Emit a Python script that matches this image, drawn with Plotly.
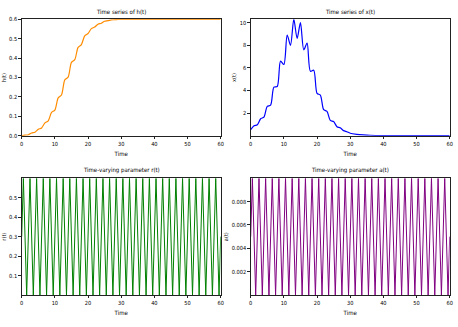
import plotly.graph_objects as go

# --------------------------
# Data
# --------------------------
t_h = [0, 1, 2, 3, 4, 5, 6, 7, 8, 9, 10, 11, 12, 13, 14, 15, 16, 17, 18, 19, 20,
       21, 22, 23, 24, 25, 26, 27, 28, 29, 30, 35, 40, 45, 50, 55, 60]
h_vals = [0.0, 0.003, 0.005, 0.014, 0.018, 0.033, 0.040, 0.066, 0.077, 0.120, 0.132,
          0.195, 0.210, 0.288, 0.302, 0.378, 0.392, 0.455, 0.470, 0.515, 0.527,
          0.552, 0.560, 0.575, 0.580, 0.590, 0.593, 0.597, 0.598, 0.599, 0.600,
          0.600, 0.600, 0.600, 0.600, 0.600, 0.600]

t_x = [0, 1, 2, 3, 4, 5, 6, 7, 8, 9, 10, 11, 12, 13, 14, 15, 16, 17, 18, 19, 20,
       21, 22, 23, 24, 25, 26, 27, 28, 29, 30, 32, 34, 36, 40, 45, 50, 60]
x_vals = [0.53, 0.88, 0.97, 1.5, 1.65, 2.6, 2.7, 4.3, 4.35, 6.6, 6.3, 8.9, 8.0, 10.3,
          8.6, 10.0, 7.6, 8.2, 5.7, 5.8, 3.75, 3.6, 2.3, 2.15, 1.35, 1.25, 0.8, 0.7,
          0.45, 0.35, 0.22, 0.12, 0.07, 0.04, 0.015, 0.005, 0.002, 0.0]

t_osc = [0, 0.5, 1.5, 2.5, 3.5, 4.5, 5.5, 6.5, 7.5, 8.5, 9.5,
         10.5, 11.5, 12.5, 13.5, 14.5, 15.5, 16.5, 17.5, 18.5, 19.5,
         20.5, 21.5, 22.5, 23.5, 24.5, 25.5, 26.5, 27.5, 28.5, 29.5,
         30.5, 31.5, 32.5, 33.5, 34.5, 35.5, 36.5, 37.5, 38.5, 39.5,
         40.5, 41.5, 42.5, 43.5, 44.5, 45.5, 46.5, 47.5, 48.5, 49.5,
         50.5, 51.5, 52.5, 53.5, 54.5, 55.5, 56.5, 57.5, 58.5, 59.5, 60]
r_vals = [0.3,
          0.6, 0.0, 0.6, 0.0, 0.6, 0.0, 0.6, 0.0, 0.6, 0.0,
          0.6, 0.0, 0.6, 0.0, 0.6, 0.0, 0.6, 0.0, 0.6, 0.0,
          0.6, 0.0, 0.6, 0.0, 0.6, 0.0, 0.6, 0.0, 0.6, 0.0,
          0.6, 0.0, 0.6, 0.0, 0.6, 0.0, 0.6, 0.0, 0.6, 0.0,
          0.6, 0.0, 0.6, 0.0, 0.6, 0.0, 0.6, 0.0, 0.6, 0.0,
          0.6, 0.0, 0.6, 0.0, 0.6, 0.0, 0.6, 0.0, 0.6, 0.0,
          0.3]
a_vals = [0.005,
          0.01, 0.0, 0.01, 0.0, 0.01, 0.0, 0.01, 0.0, 0.01, 0.0,
          0.01, 0.0, 0.01, 0.0, 0.01, 0.0, 0.01, 0.0, 0.01, 0.0,
          0.01, 0.0, 0.01, 0.0, 0.01, 0.0, 0.01, 0.0, 0.01, 0.0,
          0.01, 0.0, 0.01, 0.0, 0.01, 0.0, 0.01, 0.0, 0.01, 0.0,
          0.01, 0.0, 0.01, 0.0, 0.01, 0.0, 0.01, 0.0, 0.01, 0.0,
          0.01, 0.0, 0.01, 0.0, 0.01, 0.0, 0.01, 0.0, 0.01, 0.0,
          0.005]

x_ticks = [0, 10, 20, 30, 40, 50, 60]

# --------------------------
# Figure
# --------------------------
W, H = 458, 327
ML, MR, MT, MB = 14, 4, 6, 12
PW, PH = W - ML - MR, H - MT - MB
FONT = "DejaVu Sans Condensed, Liberation Sans Narrow, DejaVu Sans"

fig = go.Figure()
fig.add_trace(go.Scatter(x=t_h, y=h_vals, mode="lines",
                         line=dict(color="#ff8c00", width=1.2, shape="spline", smoothing=0.8),
                         xaxis="x", yaxis="y"))
fig.add_trace(go.Scatter(x=t_x, y=x_vals, mode="lines",
                         line=dict(color="blue", width=1.2, shape="spline", smoothing=0.8),
                         xaxis="x2", yaxis="y2"))
fig.add_trace(go.Scatter(x=t_osc, y=r_vals, mode="lines", line=dict(color="green", width=1.0),
                         xaxis="x3", yaxis="y3"))
fig.add_trace(go.Scatter(x=t_osc, y=a_vals, mode="lines", line=dict(color="purple", width=1.0),
                         xaxis="x4", yaxis="y4"))


# pixel positions of the panels -> domain fractions of the plot area
def dx(a, b):
    return [(a - ML) / PW, (b - ML) / PW]


def dy(top_px, bot_px):
    return [(H - MB - bot_px) / PH, (H - MB - top_px) / PH]


left = dx(21.7, 220.7)
right = dx(250.7, 449.7)
top = dy(19.3, 135.7)
bottom = dy(178.3, 295)

axis_common = dict(showline=True, mirror=True, linecolor="#222222", linewidth=0.9,
                   ticks="outside", ticklen=2.5, tickwidth=0.7, tickcolor="#222222",
                   automargin=False, ticklabeloverflow="allow",
                   showgrid=False, zeroline=False, tickfont=dict(size=5.6, family=FONT, color="black"))


def xax(dom, anchor):
    return dict(domain=dom, anchor=anchor, range=[0, 60], tickvals=x_ticks,
                title=dict(text="Time", font=dict(size=6, family=FONT), standoff=5), **axis_common)


def yax(dom, anchor, rng, ticks, label, fmt):
    return dict(domain=dom, anchor=anchor, range=rng, tickvals=ticks, tickformat=fmt,
                title=dict(text=label, font=dict(size=5.6, family=FONT), standoff=2), **axis_common)


fig.update_layout(
    width=W, height=H,
    margin=dict(l=ML, r=MR, t=MT, b=MB),
    paper_bgcolor="white", plot_bgcolor="white",
    showlegend=False,
    font=dict(family=FONT, color="black"),
    xaxis=xax(left, "y"),
    yaxis=yax(top, "x", [0, 0.6001], [0, 0.1, 0.2, 0.3, 0.4, 0.5, 0.6], "h(t)", ".1f"),
    xaxis2=xax(right, "y2"),
    yaxis2=yax(top, "x2", [0, 10.3], [2, 4, 6, 8, 10], "x(t)", "d"),
    xaxis3=xax(left, "y3"),
    yaxis3=yax(bottom, "x3", [0, 0.6], [0.1, 0.2, 0.3, 0.4, 0.5], "r(t)", ".1f"),
    xaxis4=xax(right, "y4"),
    yaxis4=yax(bottom, "x4", [0, 0.01], [0.002, 0.004, 0.006, 0.008], "a(t)", ".3f"),
)

titles = [("Time series of h(t)", left, top), ("Time series of x(t)", right, top),
          ("Time-varying parameter r(t)", left, bottom), ("Time-varying parameter a(t)", right, bottom)]
for text, xd, yd in titles:
    fig.add_annotation(text=text, x=(xd[0] + xd[1]) / 2, y=yd[1], xref="paper", yref="paper",
                       xanchor="center", yanchor="bottom", yshift=2, showarrow=False,
                       font=dict(size=6, family=FONT, color="black"))

# the default page body has an 8px margin; drop it so the figure sits at the corner
fig.write_html("out.html", config={"displayModeBar": False},
               post_script="document.body.style.margin = '0';")
